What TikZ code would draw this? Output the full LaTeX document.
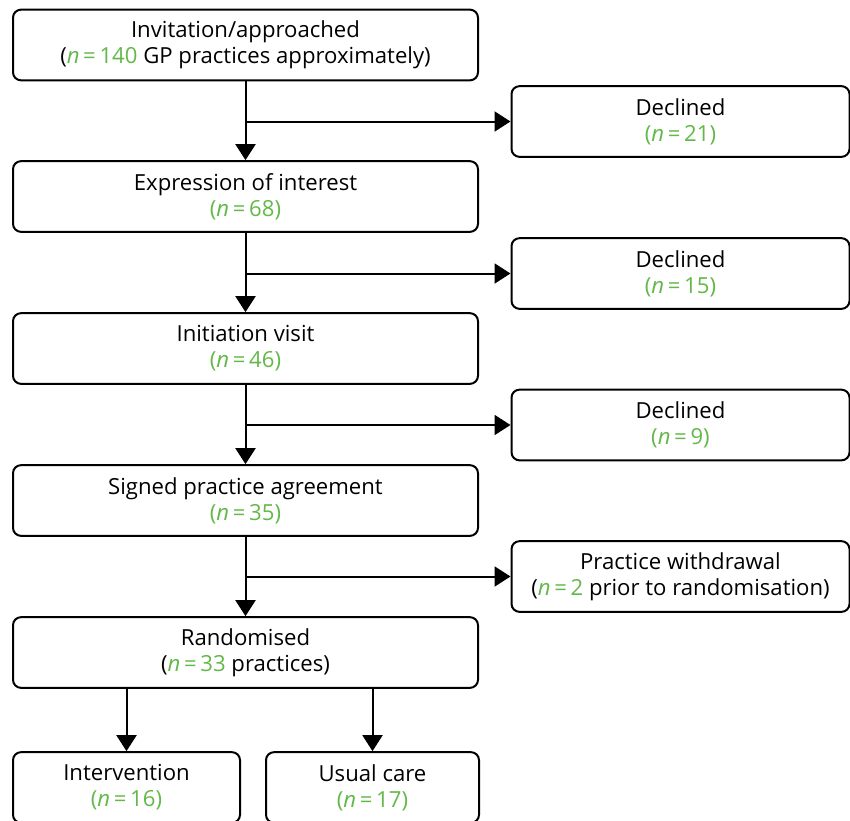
\documentclass[tikz,border=0pt]{standalone}
\usepackage{fontspec}
\setmainfont{Open Sans}
\usepackage{xcolor}
\usetikzlibrary{arrows.meta,positioning,calc}
\definecolor{ngreen}{RGB}{98,184,72}
\newcommand{\nval}[1]{\textcolor{ngreen}{\textit{n}\,=\,#1}}
\newcommand{\ngrp}[1]{\textcolor{ngreen}{(\textit{n}\,=\,#1)}}

\begin{document}
\begin{tikzpicture}[
  x=0.75pt, y=-0.75pt,
  font=\fontsize{16.6}{19.5}\selectfont,
  box/.style={draw, line width=1.5pt, rounded corners=6pt, align=center,
              minimum width=348.75pt, minimum height=53pt, inner sep=2pt},
  side/.style={box, minimum width=253.5pt},
  arm/.style={box, minimum width=170pt},
  fl/.style={line width=1.5pt, -{Triangle[length=12pt, width=15pt]}},
]
\useasboundingbox (0,0) rectangle (850,821);

% main flow
\node[box] (inv) at (245.5,45) {Invitation/approached\\(\nval{140} GP practices approximately)};
\node[box] (eoi) at (245.5,196.5) {Expression of interest\\\ngrp{68}};
\node[box] (ini) at (245.5,348.5) {Initiation visit\\\ngrp{46}};
\node[box] (spa) at (245.5,500.5) {Signed practice agreement\\\ngrp{35}};
\node[box] (ran) at (245.5,652.5) {Randomised\\(\nval{33} practices)};

% exclusions
\node[side] (dc1) at (680.5,121.5) {Declined\\\ngrp{21}};
\node[side] (dc2) at (680.5,273.5) {Declined\\\ngrp{15}};
\node[side] (dc3) at (680.5,425) {Declined\\\ngrp{9}};
\node[side] (wd) at (680.5,576.5) {Practice withdrawal\\(\nval{2} prior to randomisation)};

% arms
\node[arm, minimum width=170.25pt] (int) at (126.5,787.5) {Intervention\\\ngrp{16}};
\node[arm, minimum width=159.75pt] (uc) at (372.5,787.5) {Usual care\\\ngrp{17}};

\foreach \a/\b in {inv/eoi,eoi/ini,ini/spa,spa/ran} \draw[fl] (\a) -- (\b);
\foreach \a/\d in {inv/dc1,eoi/dc2,ini/dc3,spa/wd}
  \draw[fl] (\a.south |- \d.west) -- (\d.west);

\draw[fl] (ran.south -| int.north) -- (int.north);
\draw[fl] (ran.south -| uc.north) -- (uc.north);
\end{tikzpicture}
\end{document}
